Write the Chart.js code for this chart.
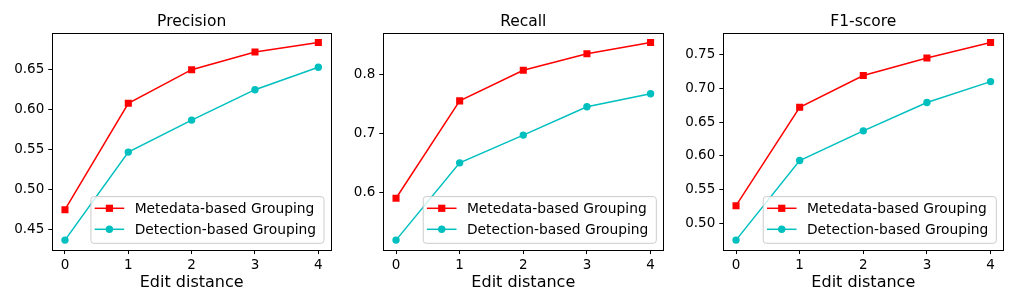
<!DOCTYPE html>
<html>
<head>
<meta charset="utf-8">
<script src="https://cdn.jsdelivr.net/npm/chart.js@4/dist/chart.umd.min.js"></script>
<style>
  body { margin: 0; background: #fff; }
  .panel { position: absolute; top: 0; width: 340px; height: 305px; }
</style>
</head>
<body>
<div class="panel" style="left:0px"><canvas id="c1" width="340" height="305"></canvas></div>
<div class="panel" style="left:340px"><canvas id="c2" width="340" height="305"></canvas></div>
<div class="panel" style="left:680px"><canvas id="c3" width="340" height="305"></canvas></div>
<script>
const editDistance = [0, 1, 2, 3, 4];

const precisionMeta = [0.475, 0.608, 0.650, 0.672, 0.684];
const precisionDet = [0.437, 0.547, 0.587, 0.625, 0.653];
const recallMeta = [0.590, 0.755, 0.807, 0.835, 0.854];
const recallDet = [0.519, 0.650, 0.697, 0.745, 0.767];
const f1Meta = [0.526, 0.672, 0.719, 0.745, 0.768];
const f1Det = [0.475, 0.593, 0.637, 0.679, 0.710];

const seriesLabels = ['Metedata-based Grouping', 'Detection-based Grouping'];
const FONT = '"DejaVu Sans", sans-serif';

Chart.defaults.font.family = FONT;
Chart.defaults.color = '#000';

// black frame round the plot + matplotlib-like legend in the lower right
const frameAndLegend = {
  id: 'frameAndLegend',
  afterDraw(chart) {
    const { ctx, chartArea: a } = chart;
    ctx.save();
    ctx.strokeStyle = '#000';
    ctx.lineWidth = 1;
    ctx.strokeRect(Math.round(a.left) + 0.5, Math.round(a.top) + 0.5,
      Math.round(a.right - a.left), Math.round(a.bottom - a.top));

    const sets = chart.data.datasets;
    ctx.font = '13.8px ' + FONT;
    const textW = Math.max(...sets.map(s => ctx.measureText(s.label).width));
    const w = 43.7 + textW + 8, h = 46.7;
    const x = a.right - 7 - w, y = a.bottom - 6.7 - h;
    ctx.fillStyle = 'rgba(255,255,255,0.8)';
    ctx.strokeStyle = '#cccccc';
    ctx.beginPath();
    ctx.roundRect(x, y, w, h, 3);
    ctx.fill();
    ctx.stroke();

    sets.forEach((s, i) => {
      const cy = y + 11.7 + i * 21;
      ctx.strokeStyle = s.borderColor;
      ctx.lineWidth = s.borderWidth;
      ctx.beginPath();
      ctx.moveTo(x + 3.7, cy);
      ctx.lineTo(x + 33.3, cy);
      ctx.stroke();
      ctx.fillStyle = s.borderColor;
      const mx = x + 18.5;
      if (s.pointStyle === 'rect') {
        ctx.fillRect(mx - 3.6, cy - 3.6, 7.2, 7.2);
      } else {
        ctx.beginPath();
        ctx.arc(mx, cy, 3.7, 0, Math.PI * 2);
        ctx.fill();
      }
      ctx.fillStyle = '#000';
      ctx.textBaseline = 'middle';
      ctx.textAlign = 'left';
      ctx.fillText(s.label, x + 43.7, cy + 1);
    });
    ctx.restore();
  }
};

function makeChart(id, title, metaVals, detVals, step, decimals, yWidth, rightPad) {
  const all = metaVals.concat(detVals);
  const lo = Math.min(...all), hi = Math.max(...all);
  const margin = (hi - lo) * 0.05;

  return new Chart(document.getElementById(id), {
    type: 'line',
    data: {
      datasets: [{
        label: seriesLabels[0],
        data: editDistance.map((d, i) => ({ x: d, y: metaVals[i] })),
        borderColor: '#ff0000',
        backgroundColor: '#ff0000',
        borderWidth: 1.5,
        pointStyle: 'rect',
        pointRadius: 5,
        pointBorderWidth: 0,
        tension: 0
      }, {
        label: seriesLabels[1],
        data: editDistance.map((d, i) => ({ x: d, y: detVals[i] })),
        borderColor: '#00bfbf',
        backgroundColor: '#00bfbf',
        borderWidth: 1.5,
        pointStyle: 'circle',
        pointRadius: 3.7,
        pointBorderWidth: 0,
        tension: 0
      }]
    },
    options: {
      responsive: false,
      animation: false,
      layout: { padding: { left: 0, right: rightPad, top: 0, bottom: 0 } },
      plugins: {
        legend: { display: false },
        tooltip: { enabled: false },
        title: {
          display: true,
          fullSize: false,
          text: title,
          color: '#000',
          font: { size: 15.5, weight: 'normal' },
          padding: { top: 13, bottom: 1 }
        }
      },
      scales: {
        x: {
          type: 'linear',
          min: -0.2,
          max: 4.2,
          border: { display: false },
          grid: { drawOnChartArea: false, drawTicks: true, tickLength: 4, color: '#000' },
          ticks: { stepSize: 1, includeBounds: false, padding: 3, color: '#000', font: { size: 13.5 } },
          title: { display: true, text: 'Edit distance', color: '#000', font: { size: 16 }, padding: { top: 0, bottom: 13 } },
          afterFit: (scale) => { scale.height = 55; }
        },
        y: {
          min: lo - margin,
          max: hi + margin,
          border: { display: false },
          grid: { drawOnChartArea: false, drawTicks: true, tickLength: 4, color: '#000' },
          ticks: {
            stepSize: step,
            includeBounds: false,
            padding: 4,
            color: '#000',
            font: { size: 13.5 },
            callback: (v) => v.toFixed(decimals)
          },
          afterFit: (scale) => { scale.width = yWidth; }
        }
      }
    },
    plugins: [frameAndLegend]
  });
}

makeChart('c1', 'Precision', precisionMeta, precisionDet, 0.05, 2, 52.3, 9);
makeChart('c2', 'Recall', recallMeta, recallDet, 0.1, 1, 43.3, 16.7);
makeChart('c3', 'F1-score', f1Meta, f1Det, 0.05, 2, 43.3, 16.7);
</script>
</body>
</html>
